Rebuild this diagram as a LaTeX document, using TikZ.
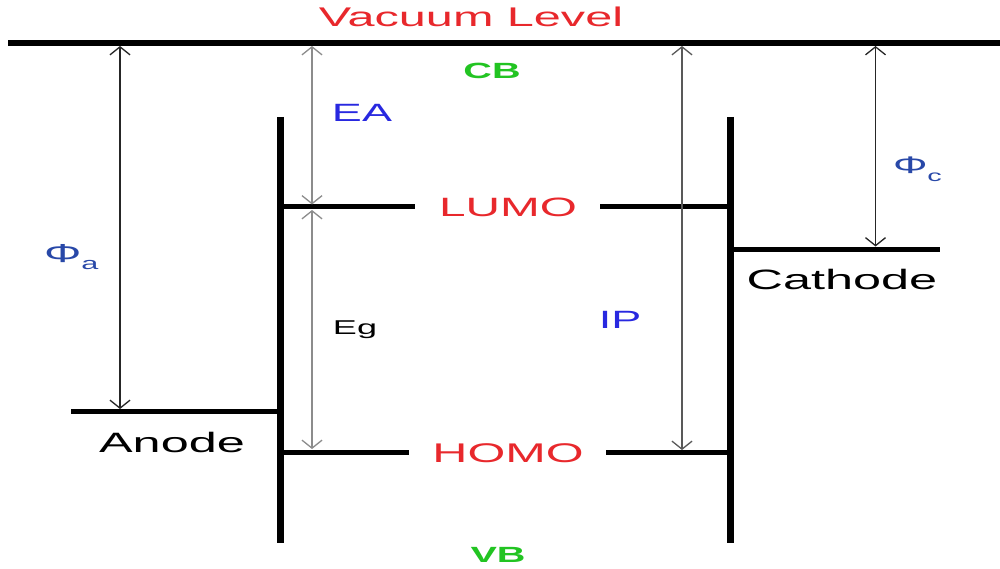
\documentclass[tikz,border=0pt]{standalone}
\usepackage{fontspec}
\setmainfont{Liberation Sans}
\usetikzlibrary{arrows.meta}
\definecolor{lblred}{HTML}{E8282C}
\definecolor{lblblue}{HTML}{2828E0}
\definecolor{phiblue}{HTML}{2848A8}
\definecolor{lblgreen}{HTML}{22C422}
\newcommand\hstretch[1]{\scalebox{1.8}[1]{#1}}
\newcommand\fsz[1]{\fontsize{#1}{#1}\selectfont}
\tikzset{
  level/.style={line width=5pt},
  bar/.style={line width=7pt},
  vac/.style={line width=6pt},
  gap/.style={line width=1.3pt, {Straight Barb[length=8pt,width=20pt,line width=1.3pt]}-{Straight Barb[length=8pt,width=20pt,line width=1.3pt]}},
  lbl/.style={anchor=base, inner sep=0pt, outer sep=0pt},
}
\begin{document}
\begin{tikzpicture}[x=1pt,y=-1pt]
\useasboundingbox[fill=white] (0,0) rectangle (1000,569);
% key coordinates
\coordinate (vacL) at (8,43);
\coordinate (vacR) at (1000,43);
\coordinate (lbT) at (280.5,117);
\coordinate (lbB) at (280.5,543);
\coordinate (rbT) at (730,117);
\coordinate (rbB) at (730,543);
% vacuum level
\draw[vac] (vacL) -- (vacR);
% bars
\draw[bar] (lbT) -- (lbB);
\draw[bar] (rbT) -- (rbB);
% level labels
\node[lbl, text=lblred] (vacuum) at (471,27) {\fsz{27}\hstretch{Vacuum Level}};
\node[lbl, text=lblgreen] (cb) at (492,79) {\fsz{22}\bfseries\hstretch{CB}};
\node[lbl, text=lblgreen] (vb) at (498,562) {\fsz{22}\bfseries\hstretch{VB}};
\node[lbl, text=lblred] (lumo) at (508,217) {\fsz{26.5}\hstretch{LUMO}};
\node[lbl, text=lblred] (homo) at (508,462) {\fsz{27}\hstretch{HOMO}};
\node[lbl] (anode) at (172,452) {\fsz{28}\hstretch{Anode}};
\node[lbl] (cathode) at (842,289) {\fsz{28}\hstretch{Cathode}};
\node[lbl, text=lblblue] (ea) at (362,122) {\fsz{25}\hstretch{EA}};
\node[lbl, text=lblblue] (ip) at (620,328) {\fsz{25}\hstretch{IP}};
\node[lbl] (eg) at (355,334) {\fsz{20}\hstretch{Eg}};
\node[lbl, anchor=base west, text=phiblue] (phia) at (44,262) {\fsz{26}\hstretch{Φ\raisebox{-0.3em}{\fsz{17}a}}};
\node[lbl, anchor=base west, text=phiblue] (phic) at (893,174) {\fsz{24}\hstretch{Φ\raisebox{-0.3em}{\fsz{16}c}}};
% level lines
\coordinate (lumoL1) at (284,207);
\coordinate (lumoL2) at (415,207);
\coordinate (lumoR1) at (600,207);
\coordinate (lumoR2) at (727,207);
\coordinate (homoL1) at (284,452.5);
\coordinate (homoL2) at (409,452.5);
\coordinate (homoR1) at (606,452.5);
\coordinate (homoR2) at (727,452.5);
\coordinate (anL) at (71,411.5);
\coordinate (anR) at (277,411.5);
\coordinate (caL) at (733,249);
\coordinate (caR) at (940,249);
\draw[level] (lumoL1) -- (lumoL2);
\draw[level] (lumoR1) -- (lumoR2);
\draw[level] (homoL1) -- (homoL2);
\draw[level] (homoR1) -- (homoR2);
\draw[level] (anL) -- (anR);
\draw[level] (caL) -- (caR);
% arrows
\coordinate (phiaT) at (120,46);
\coordinate (phiaB) at (120,409);
\coordinate (eaT) at (312,46);
\coordinate (eaB) at (312,204.5);
\coordinate (egT) at (312,210);
\coordinate (egB) at (312,449);
\coordinate (ipT) at (682,46);
\coordinate (ipB) at (682,450);
\coordinate (phicT) at (875.5,46);
\coordinate (phicB) at (875.5,246.5);
\draw[gap, black!85] (phiaT) -- (phiaB);
\draw[gap, black!45] (eaT) -- (eaB);
\draw[gap, black!45] (egT) -- (egB);
\draw[gap, black!65] (ipT) -- (ipB);
\draw[gap, black!85] (phicT) -- (phicB);
\end{tikzpicture}
\end{document}
